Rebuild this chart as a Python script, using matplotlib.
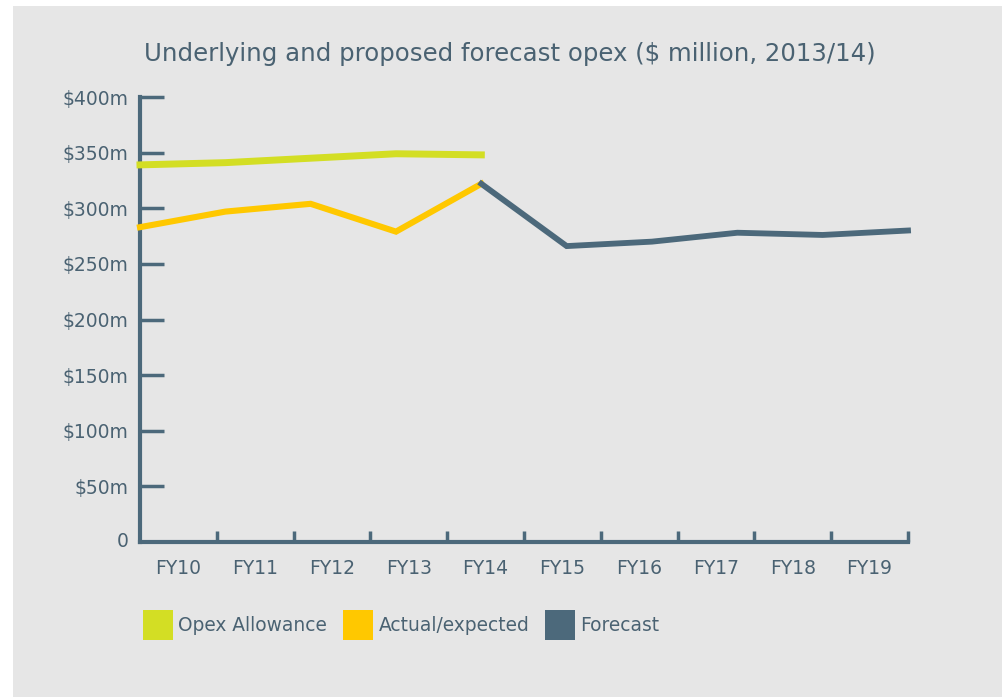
import matplotlib
matplotlib.use("Agg")
import matplotlib.pyplot as plt
from matplotlib.patches import Patch, Rectangle


years = ["FY10", "FY11", "FY12", "FY13", "FY14",
         "FY15", "FY16", "FY17", "FY18", "FY19"]
allowance = [339, 341, 345, 349, 348]
actual = [283, 297, 304, 279, 322]
forecast = [322, 266, 270, 278, 276, 280]
y_values = [0, 50, 100, 150, 200, 250, 300, 350, 400]
y_labels = ["0", "$50m", "$100m", "$150m", "$200m",
            "$250m", "$300m", "$350m", "$400m"]

GREEN = "#d3de24"
YELLOW = "#ffc800"
SLATE = "#4c697b"
TEXT = "#4a6272"
PANEL = "#e6e6e6"


def draw_axes(fig):
    """
    Build the category axis (ticks between the years) and a twin axis
    on which the lines are drawn from one end of the axis to the other.
    """

    ax = fig.add_axes([0.1397, 0.2224, 0.7665, 0.6384])
    ax.set_facecolor("none")
    ax.set_xlim(0, len(years))
    ax.set_ylim(0, 400)

    for side in ["top", "right"]:
        ax.spines[side].set_visible(False)
    for side in ["left", "bottom"]:
        ax.spines[side].set_color(SLATE)
        ax.spines[side].set_linewidth(3)
        ax.spines[side].set_capstyle("projecting")

    ax.set_xticks(range(1, len(years) + 1))
    ax.set_xticklabels([])
    ax.set_xticks([i + 0.5 for i in range(len(years))], minor=True)
    ax.set_xticklabels(years, minor=True)
    ax.tick_params(axis="x", which="major", direction="in", length=8,
                   width=2.5, color=SLATE)
    ax.tick_params(axis="x", which="minor", length=0, pad=12,
                   labelsize=13.5, labelcolor=TEXT)

    ax.set_yticks(y_values[1:])
    ax.set_yticklabels(y_labels[1:])
    ax.tick_params(axis="y", direction="in", length=17, width=2.5,
                   color=SLATE, pad=8, labelsize=13.5, labelcolor=TEXT)
    ax.text(-0.015, 0, y_labels[0], transform=ax.get_yaxis_transform(),
            ha="right", va="center", fontsize=13.5, color=TEXT)

    line_ax = ax.twiny()
    line_ax.set_xlim(0, len(years) - 1)
    line_ax.set_ylim(0, 400)
    line_ax.axis("off")
    return ax, line_ax


def main():
    """
    Plot the opex allowance, the actual/expected opex and the forecast
    opex on a light grey panel, with a square legend under the chart.
    """

    fig = plt.figure(figsize=(10.02, 6.97), dpi=100, facecolor="white")
    fig.patches.append(Rectangle((13 / 1002, 0), 1, 691 / 697,
                                 transform=fig.transFigure,
                                 facecolor=PANEL, edgecolor="none",
                                 zorder=-10))

    ax, line_ax = draw_axes(fig)

    x_all = range(len(allowance))
    x_act = range(len(actual))
    x_fc = range(len(actual) - 1, len(actual) - 1 + len(forecast))
    line_ax.plot(x_all, allowance, color=GREEN, lw=5,
                 solid_joinstyle="round", clip_on=False)
    line_ax.plot(x_act, actual, color=YELLOW, lw=4.4,
                 solid_joinstyle="miter", clip_on=False)
    line_ax.plot(x_fc, forecast, color=SLATE, lw=4.2,
                 solid_joinstyle="miter", clip_on=False)

    fig.text(0.509, 0.922,
             "Underlying and proposed forecast opex ($ million, 2013/14)",
             ha="center", va="center", fontsize=17.6, color=TEXT)

    handles = [Patch(facecolor=GREEN, label="Opex Allowance"),
               Patch(facecolor=YELLOW, label="Actual/expected"),
               Patch(facecolor=SLATE, label="Forecast")]
    fig.legend(handles=handles, ncol=3, frameon=False,
               loc="center left", bbox_to_anchor=(0.126, 0.103),
               fontsize=13.4, labelcolor=TEXT, handlelength=1.6,
               handleheight=2.1, handletextpad=0.3, columnspacing=0.85)

    fig.savefig("out.png", dpi=100, facecolor="white")


if __name__ == "__main__":
    main()
